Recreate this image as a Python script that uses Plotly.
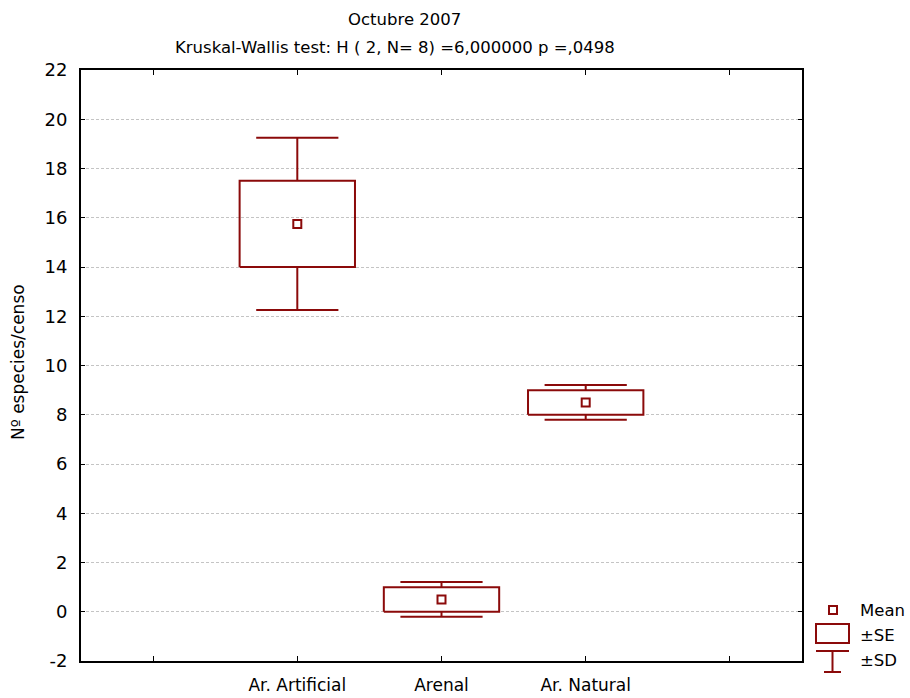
import plotly.graph_objects as go

# ---------------- data ----------------
categories = ["Ar. Artificial", "Arenal", "Ar. Natural"]
positions = [1, 2, 3]
means = [15.75, 0.5, 8.5]
se = [1.75, 0.5, 0.5]
sd = [3.5, 0.7071, 0.7071]
x_tick_vals = [0, 1, 2, 3, 4]
x_tick_text = ["", "Ar. Artificial", "Arenal", "Ar. Natural", ""]
y_tick_vals = list(range(-2, 23, 2))
y_tick_text = [str(v) for v in y_tick_vals]

title_line1 = "Octubre 2007"
title_line2 = "Kruskal-Wallis test: H ( 2, N= 8) =6,000000 p =,0498"
y_title = "Nº especies/censo"

# ---------------- style ----------------
RED = "#8B0A0A"
FONT = "DejaVu Sans, Liberation Sans, Arial, sans-serif"
BOX_HW = 0.4
CAP_HW = 0.285

W, H = 910, 698
ML, MR, MT, MB = 81, 108, 70, 37
PW, PH = W - ML - MR, H - MT - MB

def px(xp):
    return (xp - ML) / PW

def py(yp):
    return (H - MB - yp) / PH

fig = go.Figure()

# boxes (±SE)
bx, by = [], []
for p, m, s in zip(positions, means, se):
    bx += [p - BOX_HW, p + BOX_HW, p + BOX_HW, p - BOX_HW, p - BOX_HW, None]
    by += [m - s, m - s, m + s, m + s, m - s, None]
fig.add_trace(go.Scatter(x=bx, y=by, mode="lines", line=dict(color=RED, width=2),
                         hoverinfo="skip", showlegend=False))

# whiskers (±SD)
wx, wy = [], []
for p, m, s, d in zip(positions, means, se, sd):
    wx += [p, p, None, p - CAP_HW, p + CAP_HW, None,
           p, p, None, p - CAP_HW, p + CAP_HW, None]
    wy += [m + s, m + d, None, m + d, m + d, None,
           m - s, m - d, None, m - d, m - d, None]
fig.add_trace(go.Scatter(x=wx, y=wy, mode="lines", line=dict(color=RED, width=2),
                         hoverinfo="skip", showlegend=False))

# means
fig.add_trace(go.Scatter(x=positions, y=means, mode="markers",
                         marker=dict(symbol="square", size=8, color="white",
                                     line=dict(color=RED, width=2)),
                         showlegend=False))

# ---------------- legend (drawn) ----------------
shapes = []
shapes.append(dict(type="rect", xref="paper", yref="paper",
                   x0=px(829), x1=px(837), y0=py(614), y1=py(606),
                   line=dict(color=RED, width=2), fillcolor="white"))
shapes.append(dict(type="rect", xref="paper", yref="paper",
                   x0=px(816), x1=px(849), y0=py(643), y1=py(624),
                   line=dict(color=RED, width=2), fillcolor="white"))
shapes.append(dict(type="line", xref="paper", yref="paper",
                   x0=px(816), x1=px(849), y0=py(651), y1=py(651),
                   line=dict(color=RED, width=2)))
shapes.append(dict(type="line", xref="paper", yref="paper",
                   x0=px(832.5), x1=px(832.5), y0=py(651), y1=py(672),
                   line=dict(color=RED, width=2)))
shapes.append(dict(type="line", xref="paper", yref="paper",
                   x0=px(824), x1=px(841), y0=py(672), y1=py(672),
                   line=dict(color=RED, width=2)))

annotations = []
for txt, yp in [("Mean", 610), ("±SE", 635), ("±SD", 660)]:
    annotations.append(dict(text=txt, xref="paper", yref="paper", x=px(858), y=py(yp),
                            xanchor="left", yanchor="middle", showarrow=False,
                            font=dict(family=FONT, size=16.5, color="black")))

annotations.append(dict(text=title_line1, xref="paper", yref="paper", x=px(404), y=py(19),
                        xanchor="center", yanchor="middle", showarrow=False,
                        font=dict(family=FONT, size=16.5, color="black")))
annotations.append(dict(text=title_line2, xref="paper", yref="paper", x=px(395), y=py(47),
                        xanchor="center", yanchor="middle", showarrow=False,
                        font=dict(family=FONT, size=16.5, color="black")))
annotations.append(dict(text=y_title, xref="paper", yref="paper", x=px(18), y=py(362),
                        xanchor="center", yanchor="middle", showarrow=False, textangle=-90,
                        font=dict(family=FONT, size=17, color="black")))

fig.update_layout(
    width=W, height=H,
    margin=dict(l=ML, r=MR, t=MT, b=MB, autoexpand=False),
    paper_bgcolor="white", plot_bgcolor="white",
    font=dict(family=FONT, size=17, color="black"),
    showlegend=False,
    shapes=shapes,
    annotations=annotations,
    xaxis=dict(range=[-0.5, 4.5], tickmode="array", tickvals=x_tick_vals,
               ticktext=x_tick_text, ticks="inside", ticklen=5, tickwidth=1,
               tickcolor="black", showgrid=False, zeroline=False, automargin=False,
               showline=True, linecolor="black", linewidth=2, mirror="ticks",
               ticklabelstandoff=8, tickfont=dict(size=17)),
    yaxis=dict(range=[-2, 22], tickmode="array", tickvals=y_tick_vals,
               ticktext=y_tick_text, automargin=False,
               ticks="inside", ticklen=4, tickwidth=1, tickcolor="black",
               showgrid=True, gridcolor="#c4c4c4",
               griddash="3px,2px", gridwidth=1, zeroline=False,
               showline=True, linecolor="black", linewidth=2, mirror="ticks",
               ticklabelstandoff=8, tickfont=dict(size=18)),
)

fig.write_html("out.html", config={"displayModeBar": False},
               post_script="document.body.style.margin='0';")
